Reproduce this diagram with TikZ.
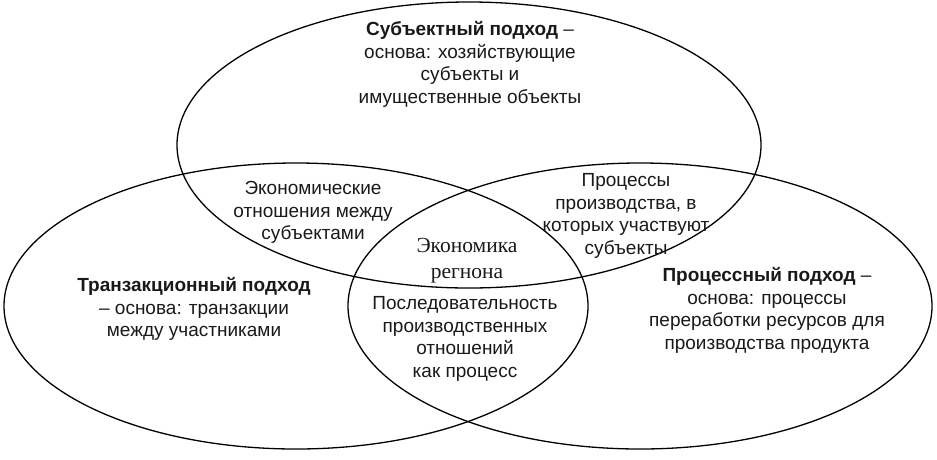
\documentclass[tikz,border=0pt]{standalone}
\usepackage{fontspec}
\setmainfont{Liberation Sans}
\newfontfamily\serifrm{Liberation Serif}
\tikzset{
  ring/.style={draw=black, line width=1.3pt},
  lbl/.style={align=center, inner sep=0pt, anchor=north, text=black!90,
    font=\fontsize{19}{22.5}\selectfont},
  midlbl/.style={align=center, inner sep=0pt, anchor=north, text=black!90,
    font=\serifrm\fontsize{21.5}{26}\selectfont}
}
\begin{document}
\begin{tikzpicture}[x=1pt,y=-1pt]
\useasboundingbox (0,0) rectangle (937,459);
\draw[ring] (469,145) ellipse [x radius=292, y radius=143];
\draw[ring] (296,306) ellipse [x radius=292, y radius=143];
\draw[ring] (640,306) ellipse [x radius=292, y radius=143];
\node[lbl] (subj) at (470,20) {\strut\textbf{Субъектный подход} –\\основа: хозяйствующие\\субъекты и\\имущественные объекты};
\node[lbl] (rel) at (313,179) {\strut Экономические\\отношения между\\субъектами};
\node[lbl] (proc) at (626,171) {\strut Процессы\\производства, в\\которых участвуют\\субъекты};
\node[midlbl] (econ) at (467,233.8) {\strut Экономика\\регнона};
\node[lbl] (seq) at (465,294) {\strut Последовательность\\производственных\\отношений\\как процесс};
\node[lbl] (trans) at (194,276) {\strut\textbf{Транзакционный подход}\\– основа: транзакции\\между участниками};
\node[lbl] (procapp) at (767,266) {\strut\textbf{Процессный подход} –\\основа: процессы\\переработки ресурсов для\\производства продукта};
\end{tikzpicture}
\end{document}
